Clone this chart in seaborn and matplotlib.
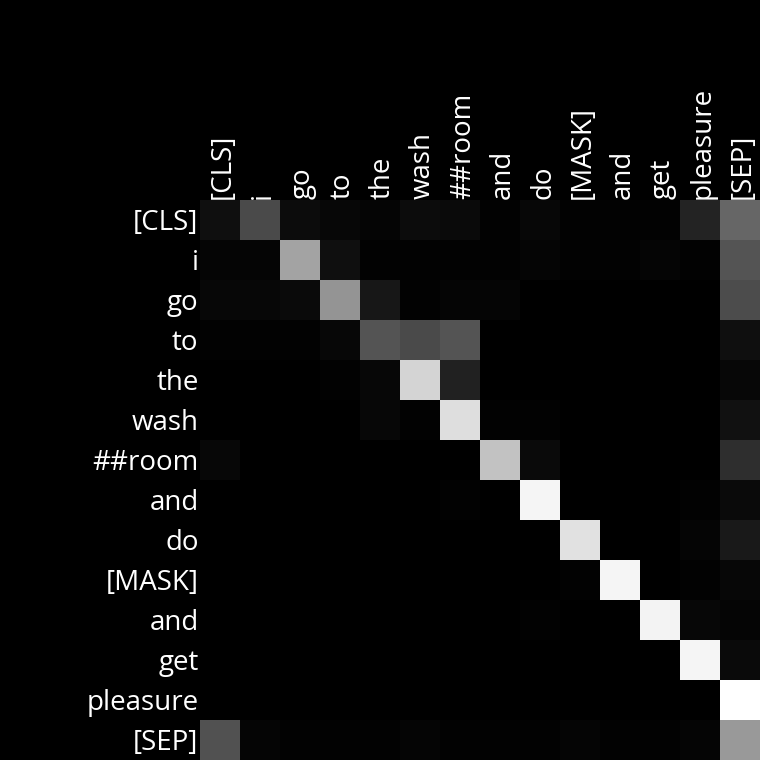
import numpy as np
import pandas as pd
import seaborn as sns
import matplotlib.pyplot as plt
from matplotlib.transforms import ScaledTranslation

# tokens of the sentence (rows = query, cols = key)
tokens = ["[CLS]", "i", "go", "to", "the", "wash", "##room", "and", "do",
          "[MASK]", "and", "get", "pleasure", "[SEP]"]

# attention weights, one list per row
att_cls = [0.06, 0.29, 0.05, 0.03, 0.02, 0.05, 0.04, 0.01, 0.03, 0.01, 0.01, 0.01, 0.14, 0.40]
att_i = [0.02, 0.02, 0.64, 0.06, 0.01, 0.01, 0.01, 0.01, 0.02, 0.01, 0.01, 0.02, 0.01, 0.33]
att_go = [0.03, 0.03, 0.04, 0.58, 0.09, 0.01, 0.02, 0.02, 0.00, 0.00, 0.00, 0.00, 0.00, 0.30]
att_to = [0.01, 0.01, 0.01, 0.03, 0.33, 0.29, 0.33, 0.00, 0.00, 0.00, 0.00, 0.00, 0.00, 0.06]
att_the = [0.00, 0.00, 0.00, 0.01, 0.03, 0.83, 0.13, 0.00, 0.00, 0.00, 0.00, 0.00, 0.00, 0.03]
att_wash = [0.00, 0.00, 0.00, 0.00, 0.03, 0.01, 0.87, 0.01, 0.01, 0.00, 0.00, 0.00, 0.00, 0.07]
att_room = [0.03, 0.00, 0.00, 0.00, 0.00, 0.00, 0.00, 0.76, 0.04, 0.00, 0.00, 0.00, 0.00, 0.18]
att_and1 = [0.00, 0.00, 0.00, 0.00, 0.00, 0.00, 0.01, 0.00, 0.96, 0.00, 0.00, 0.00, 0.01, 0.04]
att_do = [0.00, 0.00, 0.00, 0.00, 0.00, 0.00, 0.00, 0.00, 0.00, 0.88, 0.00, 0.00, 0.02, 0.10]
att_mask = [0.00, 0.00, 0.00, 0.00, 0.00, 0.00, 0.00, 0.00, 0.00, 0.01, 0.96, 0.00, 0.01, 0.03]
att_and2 = [0.00, 0.00, 0.00, 0.00, 0.00, 0.00, 0.00, 0.00, 0.01, 0.00, 0.00, 0.95, 0.03, 0.02]
att_get = [0.00, 0.00, 0.00, 0.00, 0.00, 0.00, 0.00, 0.00, 0.00, 0.00, 0.00, 0.00, 0.96, 0.04]
att_pleasure = [0.00, 0.00, 0.00, 0.00, 0.00, 0.00, 0.00, 0.00, 0.00, 0.00, 0.00, 0.00, 0.00, 1.00]
att_sep = [0.32, 0.02, 0.01, 0.01, 0.01, 0.02, 0.01, 0.01, 0.01, 0.02, 0.01, 0.01, 0.02, 0.60]

rows = [att_cls, att_i, att_go, att_to, att_the, att_wash, att_room, att_and1,
        att_do, att_mask, att_and2, att_get, att_pleasure, att_sep]
df = pd.DataFrame(rows, index=range(len(tokens)), columns=range(len(tokens)))

plt.rcParams['font.family'] = ['Open Sans', 'DejaVu Sans']

fig = plt.figure(figsize=(7.6, 7.6), dpi=100, facecolor='black')
ax = fig.add_axes([200 / 760, 0, 560 / 760, 560 / 760])
ax.set_facecolor('black')

sns.heatmap(df, ax=ax, cmap='gray', vmin=0, vmax=1, cbar=False,
            square=False, xticklabels=tokens, yticklabels=tokens)

# labels on top, rotated, white
ax.xaxis.tick_top()
ax.set_xticklabels(tokens, rotation=90, color='white', fontsize=20)
ax.set_yticklabels(tokens, rotation=0, color='white', fontsize=20)
ax.tick_params(length=0, pad=1)
ax.set_xlabel('')
ax.set_ylabel('')

# nudge labels a few px to sit like the original
dx = ScaledTranslation(3 / 100, 0, fig.dpi_scale_trans)
dy = ScaledTranslation(0, -3 / 100, fig.dpi_scale_trans)
for lbl in ax.get_xticklabels():
    lbl.set_transform(lbl.get_transform() + dx)
for lbl in ax.get_yticklabels():
    lbl.set_transform(lbl.get_transform() + dy)

fig.savefig('out.png', dpi=100, facecolor='black')
